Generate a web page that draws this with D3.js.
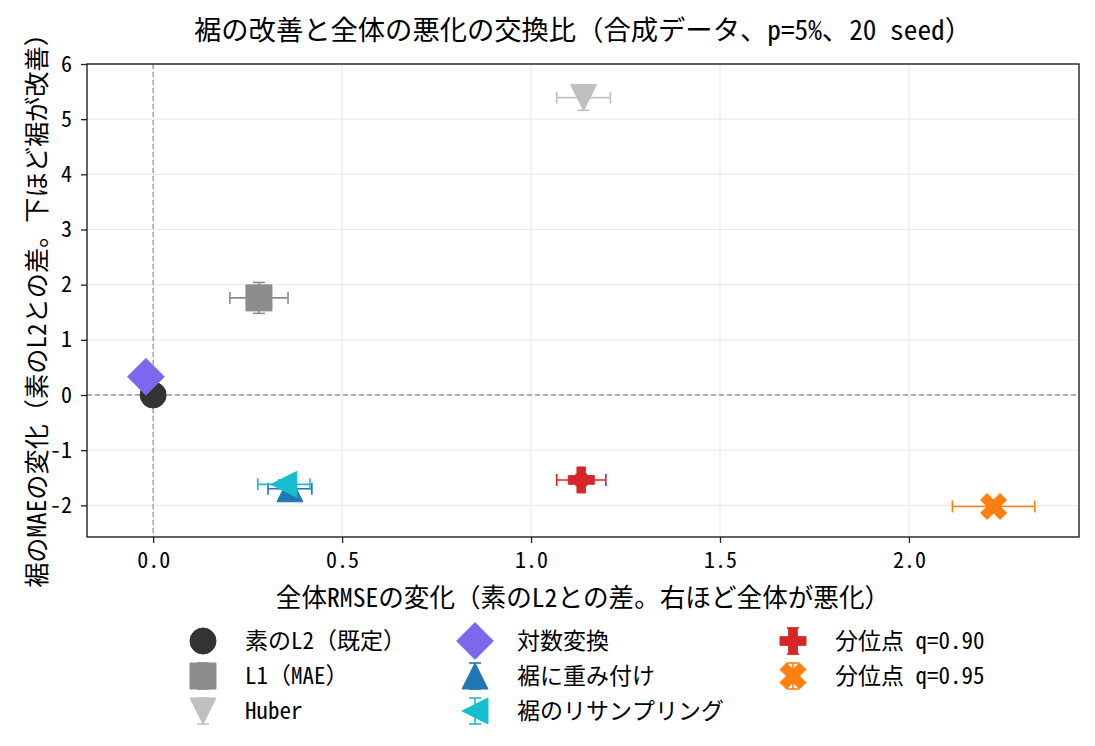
<!DOCTYPE html>
<html>
<head>
<meta charset="utf-8">
<script src="https://cdn.jsdelivr.net/npm/d3@7"></script>
<style>
  html, body { margin: 0; padding: 0; background: #fff; }
  svg { display: block; }
  text { font-family: "Noto Sans Mono CJK JP", "Noto Sans CJK JP", "DejaVu Sans Mono", monospace; fill: #000; }
</style>
</head>
<body>
<svg id="chart" width="1095" height="746"></svg>
<script>
// ---- data ----
const methods   = ["素のL2（既定）", "L1（MAE）", "Huber", "対数変換", "裾に重み付け", "裾のリサンプリング", "分位点 q=0.90", "分位点 q=0.95"];
const dRMSE     = [0.000, 0.280, 1.139, -0.019, 0.362, 0.346, 1.133, 2.224];
const dRMSEerr  = [0.000, 0.077, 0.071, 0.010, 0.058, 0.069, 0.065, 0.109];
const dMAE      = [0.000, 1.76, 5.39, 0.33, -1.70, -1.62, -1.54, -2.02];
const dMAEerr   = [0.000, 0.28, 0.23, 0.05, 0.10, 0.08, 0.10, 0.08];
const markers   = ["circle", "square", "triDown", "diamond", "triUp", "triLeft", "plus", "x"];
const colors    = ["#333333", "#8c8c8c", "#c0c0c0", "#7b68ee", "#1f77b4", "#17becf", "#d62728", "#ff7f0e"];
const xTicks    = [0.0, 0.5, 1.0, 1.5, 2.0];
const yTicks    = [-2, -1, 0, 1, 2, 3, 4, 5, 6];
const titleText = "裾の改善と全体の悪化の交換比（合成データ、p=5%、20 seed）";
const xLabel    = "全体RMSEの変化（素のL2との差。右ほど全体が悪化）";
const yLabel    = "裾のMAEの変化（素のL2との差。下ほど裾が改善）";

// ---- layout ----
const svg = d3.select("#chart");
const L = 87, R = 1079, T = 64, B = 537;
const x = d3.scaleLinear().domain([-0.175, 2.450]).range([L, R]);
const y = d3.scaleLinear().domain([-2.574, 6.0]).range([B, T]);
const M = 26; // marker size

function markerPath(type, s) {
  const h = s / 2;
  const p = d3.path();
  const poly = pts => { pts.forEach((q, i) => i ? p.lineTo(q[0], q[1]) : p.moveTo(q[0], q[1])); p.closePath(); };
  switch (type) {
    case "circle": p.arc(0, 0, h, 0, 2 * Math.PI); break;
    case "square": poly([[-h, -h], [h, -h], [h, h], [-h, h]]); break;
    case "diamond": { const d = s * Math.SQRT1_2; poly([[0, -d], [d, 0], [0, d], [-d, 0]]); break; }
    case "triUp": poly([[0, -h], [h, h], [-h, h]]); break;
    case "triDown": poly([[0, h], [h, -h], [-h, -h]]); break;
    case "triLeft": poly([[-h, 0], [h, -h], [h, h]]); break;
    case "plus": {
      const u = s / 6;
      poly([[-u, -3 * u], [u, -3 * u], [u, -u], [3 * u, -u], [3 * u, u], [u, u], [u, 3 * u], [-u, 3 * u], [-u, u], [-3 * u, u], [-3 * u, -u], [-u, -u]]);
      break;
    }
    case "x": {
      const u = s / 4;
      poly([[-u, -2 * u], [0, -u], [u, -2 * u], [2 * u, -u], [u, 0], [2 * u, u], [u, 2 * u], [0, u], [-u, 2 * u], [-2 * u, u], [-u, 0], [-2 * u, -u]]);
      break;
    }
  }
  return p.toString();
}

// grid
const grid = svg.append("g");
grid.selectAll("line.gx").data(xTicks).join("line")
  .attr("x1", d => x(d)).attr("x2", d => x(d)).attr("y1", T).attr("y2", B)
  .attr("stroke", "#ebebeb").attr("stroke-width", 1.2);
grid.selectAll("line.gy").data(yTicks).join("line")
  .attr("y1", d => y(d)).attr("y2", d => y(d)).attr("x1", L).attr("x2", R)
  .attr("stroke", "#ebebeb").attr("stroke-width", 1.2);

// reference lines at zero
svg.append("line").attr("x1", x(0)).attr("x2", x(0)).attr("y1", T).attr("y2", B)
  .attr("stroke", "#999").attr("stroke-width", 1.3).attr("stroke-dasharray", "5,3");
svg.append("line").attr("y1", y(0)).attr("y2", y(0)).attr("x1", L).attr("x2", R)
  .attr("stroke", "#999").attr("stroke-width", 1.3).attr("stroke-dasharray", "5,3");

// points with error bars
const cap = 6;
const pts = svg.append("g");
methods.forEach((m, i) => {
  const g = pts.append("g");
  const cx = x(dRMSE[i]), cy = y(dMAE[i]);
  if (dRMSEerr[i] > 0) {
    const x0 = x(dRMSE[i] - dRMSEerr[i]), x1 = x(dRMSE[i] + dRMSEerr[i]);
    g.append("line").attr("x1", x0).attr("x2", x1).attr("y1", cy).attr("y2", cy).attr("stroke", colors[i]).attr("stroke-width", 1.6);
    [x0, x1].forEach(xx => g.append("line").attr("x1", xx).attr("x2", xx).attr("y1", cy - cap).attr("y2", cy + cap).attr("stroke", colors[i]).attr("stroke-width", 1.6));
  }
  if (dMAEerr[i] > 0) {
    const y0 = y(dMAE[i] - dMAEerr[i]), y1 = y(dMAE[i] + dMAEerr[i]);
    g.append("line").attr("x1", cx).attr("x2", cx).attr("y1", y0).attr("y2", y1).attr("stroke", colors[i]).attr("stroke-width", 1.6);
    [y0, y1].forEach(yy => g.append("line").attr("x1", cx - cap).attr("x2", cx + cap).attr("y1", yy).attr("y2", yy).attr("stroke", colors[i]).attr("stroke-width", 1.6));
  }
  g.append("path").attr("d", markerPath(markers[i], M)).attr("transform", `translate(${cx},${cy})`)
    .attr("fill", colors[i]).attr("stroke", colors[i]).attr("stroke-width", 1).attr("stroke-linejoin", "round");
});

// axes
const xAxis = svg.append("g").attr("transform", `translate(0,${B})`)
  .call(d3.axisBottom(x).tickValues(xTicks).tickFormat(d3.format(".1f")).tickSizeOuter(0).tickSize(6).tickPadding(9));
const yAxis = svg.append("g").attr("transform", `translate(${L},0)`)
  .call(d3.axisLeft(y).tickValues(yTicks).tickFormat(d => d).tickSizeOuter(0).tickSize(6).tickPadding(9));
[xAxis, yAxis].forEach(a => {
  a.select(".domain").remove();
  a.selectAll(".tick line").attr("stroke", "#222").attr("stroke-width", 1.3);
  a.selectAll(".tick text").attr("font-size", 22).attr("fill", "#222")
    .style("font-family", '"Noto Sans Mono CJK JP", "Noto Sans CJK JP", monospace');
});

svg.append("rect").attr("x", L).attr("y", T).attr("width", R - L).attr("height", B - T)
  .attr("fill", "none").attr("stroke", "#222").attr("stroke-width", 1.4);

// labels
svg.append("text").attr("x", (L + R) / 2).attr("y", 40).attr("text-anchor", "middle").attr("font-size", 27.3).text(titleText);
svg.append("text").attr("x", (L + R) / 2).attr("y", 607).attr("text-anchor", "middle").attr("font-size", 25.6).text(xLabel);
svg.append("text").attr("transform", `translate(46,${(T + B) / 2 + 4}) rotate(-90)`).attr("text-anchor", "middle").attr("font-size", 25.2).text(yLabel);

// legend
const colX = [203, 475, 793];
const rowY = [641, 676, 711];
const leg = svg.append("g");
methods.forEach((m, i) => {
  const col = Math.floor(i / 3), row = i % 3;
  const lx = colX[col], ly = rowY[row];
  const g = leg.append("g").attr("transform", `translate(${lx},${ly})`);
  if (dRMSEerr[i] > 0 && i !== 3) {
    const e = M / 2;
    g.append("line").attr("x1", 0).attr("x2", 0).attr("y1", -e).attr("y2", e).attr("stroke", colors[i]).attr("stroke-width", 1.6);
    [-e, e].forEach(yy => g.append("line").attr("x1", -cap).attr("x2", cap).attr("y1", yy).attr("y2", yy).attr("stroke", colors[i]).attr("stroke-width", 1.6));
  }
  g.append("path").attr("d", markerPath(markers[i], M)).attr("fill", colors[i]).attr("stroke", colors[i]).attr("stroke-width", 1).attr("stroke-linejoin", "round");
  leg.append("text").attr("x", lx + 42).attr("y", ly).attr("dy", "0.36em").attr("font-size", 23).text(m);
});
</script>
</body>
</html>
